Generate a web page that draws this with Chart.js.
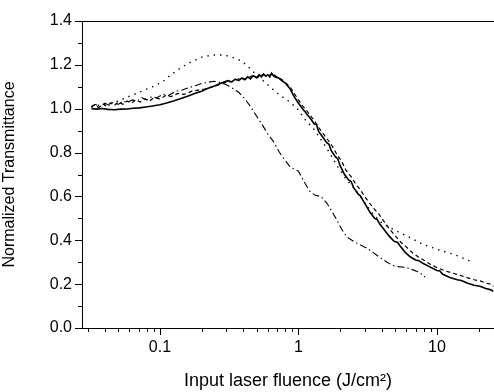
<!DOCTYPE html>
<html>
<head>
<meta charset="utf-8">
<script src="https://cdn.jsdelivr.net/npm/chart.js@4/dist/chart.umd.min.js"></script>
<style>
  html, body { margin: 0; padding: 0; background: #fff; }
  #wrap { width: 494px; height: 392px; }
</style>
</head>
<body>
<div id="wrap"><canvas id="myChart" width="494" height="392"></canvas></div>
<script>
// axis setup
var xMin = 0.02735, xMax = 25.8;
var yMin = 0, yMax = 1.4;
var xTickLabels = [0.1, 1, 10];
var yTickLabels = [0.0, 0.2, 0.4, 0.6, 0.8, 1.0, 1.2, 1.4];

// solid curve
var solidX = [0.032, 0.035, 0.038, 0.042, 0.047, 0.052, 0.058, 0.064, 0.071, 0.079, 0.088, 0.1, 0.11, 0.125, 0.14, 0.16, 0.18, 0.2, 0.22, 0.25, 0.28, 0.31, 0.33, 0.35, 0.37, 0.39, 0.41, 0.43, 0.45, 0.47, 0.5, 0.52, 0.54, 0.56, 0.58, 0.6, 0.62, 0.64, 0.66, 0.68, 0.72, 0.77, 0.8, 0.82, 0.87, 0.93, 1.0, 1.07, 1.12, 1.15, 1.22, 1.3, 1.35, 1.4, 1.5, 1.6, 1.66, 1.72, 1.85, 1.92, 2.0, 2.15, 2.3, 2.4, 2.5, 2.7, 2.8, 2.9, 3.1, 3.3, 3.55, 3.7, 3.85, 4.2, 4.5, 4.9, 5.2, 5.4, 5.9, 6.4, 7.0, 7.4, 7.9, 8.8, 10, 10.5, 11, 12.4, 14, 15, 16.5, 18.5, 20.4, 22.5, 24.2, 25.5];
var solidY = [1.000, 0.998, 1.001, 0.997, 0.995, 0.998, 0.999, 1.002, 1.004, 1.008, 1.012, 1.018, 1.025, 1.035, 1.045, 1.058, 1.07, 1.08, 1.092, 1.105, 1.118, 1.128, 1.122, 1.135, 1.128, 1.14, 1.132, 1.145, 1.136, 1.15, 1.142, 1.155, 1.145, 1.158, 1.148, 1.155, 1.145, 1.162, 1.15, 1.145, 1.14, 1.125, 1.118, 1.11, 1.09, 1.055, 1.025, 1.0, 0.985, 0.975, 0.955, 0.93, 0.928, 0.895, 0.87, 0.845, 0.838, 0.81, 0.78, 0.772, 0.74, 0.70, 0.675, 0.668, 0.64, 0.61, 0.603, 0.585, 0.555, 0.525, 0.50, 0.495, 0.475, 0.445, 0.42, 0.395, 0.39, 0.375, 0.345, 0.325, 0.31, 0.307, 0.295, 0.28, 0.262, 0.26, 0.245, 0.23, 0.22, 0.217, 0.205, 0.195, 0.19, 0.18, 0.175, 0.168];

// dashed curve
var dashX = [0.032, 0.034, 0.036, 0.039, 0.041, 0.044, 0.047, 0.05, 0.054, 0.058, 0.062, 0.067, 0.072, 0.078, 0.084, 0.09, 0.1, 0.11, 0.12, 0.135, 0.15, 0.17, 0.19, 0.21, 0.24, 0.27, 0.3, 0.34, 0.38, 0.42, 0.46, 0.5, 0.55, 0.6, 0.65, 0.7, 0.75, 0.8, 0.87, 0.93, 1.0, 1.08, 1.15, 1.25, 1.35, 1.45, 1.6, 1.75, 1.9, 2.05, 2.2, 2.4, 2.6, 2.8, 3.0, 3.25, 3.5, 3.8, 4.1, 4.5, 5.0, 5.5, 6.0, 6.6, 7.3, 8.0, 9.0, 10, 11.5, 13, 14.7, 16.5, 18.5, 20.5, 22.5, 24.5, 25.5];
var dashY = [1.01, 1.02, 1.005, 1.02, 1.012, 1.025, 1.015, 1.03, 1.02, 1.035, 1.025, 1.04, 1.03, 1.045, 1.035, 1.05, 1.045, 1.06, 1.055, 1.07, 1.065, 1.08, 1.085, 1.09, 1.10, 1.11, 1.12, 1.125, 1.14, 1.135, 1.15, 1.14, 1.155, 1.15, 1.16, 1.145, 1.135, 1.12, 1.10, 1.07, 1.04, 1.01, 0.99, 0.96, 0.93, 0.90, 0.865, 0.83, 0.79, 0.76, 0.72, 0.69, 0.655, 0.63, 0.60, 0.57, 0.545, 0.52, 0.49, 0.455, 0.42, 0.39, 0.37, 0.345, 0.325, 0.31, 0.29, 0.275, 0.26, 0.25, 0.24, 0.23, 0.22, 0.215, 0.205, 0.20, 0.19];

// dotted curve
var dotX = [0.032, 0.04, 0.05, 0.062, 0.074, 0.088, 0.103, 0.12, 0.144, 0.17, 0.2, 0.24, 0.29, 0.33, 0.38, 0.42, 0.47, 0.55, 0.65, 0.74, 0.87, 0.98, 1.1, 1.28, 1.45, 1.6, 1.9, 2.2, 2.5, 2.8, 3.1, 3.45, 4.0, 4.5, 5.2, 6.5, 8.0, 10.5, 14, 18];
var dotY = [1.01, 1.02, 1.035, 1.06, 1.08, 1.10, 1.12, 1.155, 1.19, 1.215, 1.235, 1.245, 1.245, 1.235, 1.22, 1.20, 1.17, 1.13, 1.09, 1.06, 1.03, 1.0, 0.955, 0.91, 0.86, 0.82, 0.74, 0.68, 0.64, 0.60, 0.56, 0.52, 0.48, 0.46, 0.44, 0.41, 0.38, 0.355, 0.33, 0.30];

// dash-dot curve
var dashDotX = [0.032, 0.034, 0.037, 0.04, 0.043, 0.046, 0.05, 0.054, 0.058, 0.063, 0.068, 0.074, 0.08, 0.087, 0.095, 0.105, 0.115, 0.13, 0.145, 0.16, 0.18, 0.2, 0.22, 0.245, 0.27, 0.3, 0.33, 0.37, 0.41, 0.45, 0.5, 0.55, 0.6, 0.66, 0.73, 0.8, 0.87, 0.93, 1.0, 1.08, 1.15, 1.22, 1.32, 1.45, 1.6, 1.75, 1.9, 2.05, 2.24, 2.5, 2.78, 3.1, 3.45, 3.9, 4.36, 4.8, 5.14, 5.6, 6.07, 6.7, 7.2, 7.6, 8.2];
var dashDotY = [1.005, 1.02, 1.01, 1.025, 1.015, 1.03, 1.02, 1.035, 1.028, 1.04, 1.035, 1.05, 1.04, 1.055, 1.05, 1.065, 1.06, 1.08, 1.085, 1.095, 1.105, 1.115, 1.12, 1.125, 1.12, 1.11, 1.095, 1.075, 1.045, 1.01, 0.965, 0.925, 0.885, 0.85, 0.80, 0.765, 0.735, 0.725, 0.715, 0.675, 0.645, 0.62, 0.605, 0.60, 0.57, 0.53, 0.49, 0.45, 0.415, 0.395, 0.38, 0.365, 0.345, 0.32, 0.30, 0.285, 0.28, 0.278, 0.275, 0.265, 0.258, 0.25, 0.232];

function pts(xs, ys) {
  return xs.map(function (x, i) { return { x: x, y: ys[i] }; });
}

function isDecade(v) {
  var l = Math.log10(v);
  return Math.abs(l - Math.round(l)) < 1e-6;
}

// outward tick marks (long on labelled values, short between) and the top frame line
var frame = {
  id: 'frame',
  afterDraw: function (chart) {
    var ctx = chart.ctx, a = chart.chartArea;
    var xs = chart.scales.x, ys = chart.scales.y;
    ctx.save();
    ctx.strokeStyle = '#000';
    ctx.lineWidth = 1;
    ctx.beginPath();
    ctx.moveTo(a.left, a.top + 0.5);
    ctx.lineTo(a.right, a.top + 0.5);
    for (var e = -2; e <= 1; e++) {
      for (var m = 1; m <= 9; m++) {
        var v = m * Math.pow(10, e);
        if (v < xMin || v > xMax) continue;
        var px = Math.round(xs.getPixelForValue(v)) + 0.5;
        var len = isDecade(v) ? 7 : 4;
        ctx.moveTo(px, a.bottom);
        ctx.lineTo(px, a.bottom + len);
      }
    }
    for (var k = 0; k <= 14; k++) {
      var val = k / 10;
      var py = Math.round(ys.getPixelForValue(val)) + 0.5;
      var l2 = (k % 2 === 0) ? 7 : 4;
      ctx.moveTo(a.left, py);
      ctx.lineTo(a.left - l2, py);
    }
    ctx.stroke();
    ctx.restore();
  }
};

var font = 'Liberation Sans, Arial, sans-serif';

var ctx = document.getElementById('myChart');
new Chart(ctx, {
  type: 'line',
  data: {
    datasets: [
      { data: pts(solidX, solidY), borderColor: '#000', borderWidth: 1.6, pointRadius: 0 },
      { data: pts(dashX, dashY), borderColor: '#000', borderWidth: 1.2, borderDash: [4, 3], pointRadius: 0 },
      { data: pts(dotX, dotY), borderColor: '#000', borderWidth: 1.4, borderDash: [1.4, 5], pointRadius: 0 },
      { data: pts(dashDotX, dashDotY), borderColor: '#000', borderWidth: 1.1, borderDash: [7, 3, 1.5, 3], pointRadius: 0 }
    ]
  },
  options: {
    responsive: false,
    animation: false,
    layout: { padding: { top: 21, right: 0, left: 0, bottom: 0 } },
    plugins: { legend: { display: false }, tooltip: { enabled: false } },
    scales: {
      x: {
        type: 'logarithmic',
        min: xMin,
        max: xMax,
        afterFit: function (s) { s.height = 64; },
        grid: { display: true, drawOnChartArea: false, drawTicks: false },
        border: { display: true, color: '#000', width: 1 },
        ticks: {
          autoSkip: false,
          maxRotation: 0,
          padding: 10,
          color: '#000',
          font: { family: font, size: 16 },
          callback: function (v) {
            for (var i = 0; i < xTickLabels.length; i++) {
              if (Math.abs(v - xTickLabels[i]) < 1e-9) return String(xTickLabels[i]);
            }
            return '';
          }
        },
        afterBuildTicks: function (s) {
          s.ticks = xTickLabels.map(function (v) { return { value: v }; });
        },
        title: {
          display: true,
          text: 'Input laser fluence (J/cm\u00b2)',
          color: '#000',
          font: { family: font, size: 18 },
          padding: { top: 2, bottom: 0 }
        }
      },
      y: {
        min: yMin,
        max: yMax,
        afterFit: function (s) { s.width = 82; },
        afterBuildTicks: function (s) {
          s.ticks = yTickLabels.map(function (v) { return { value: v }; });
        },
        grid: { display: true, drawOnChartArea: false, drawTicks: false },
        border: { display: true, color: '#000', width: 1 },
        ticks: {
          padding: 10,
          color: '#000',
          font: { family: font, size: 16 },
          callback: function (v) { return Number(v).toFixed(1); }
        },
        title: {
          display: true,
          text: 'Normalized Transmittance',
          color: '#000',
          font: { family: font, size: 16 },
          padding: { top: 0, bottom: 6 }
        }
      }
    }
  },
  plugins: [frame]
});
</script>
</body>
</html>
